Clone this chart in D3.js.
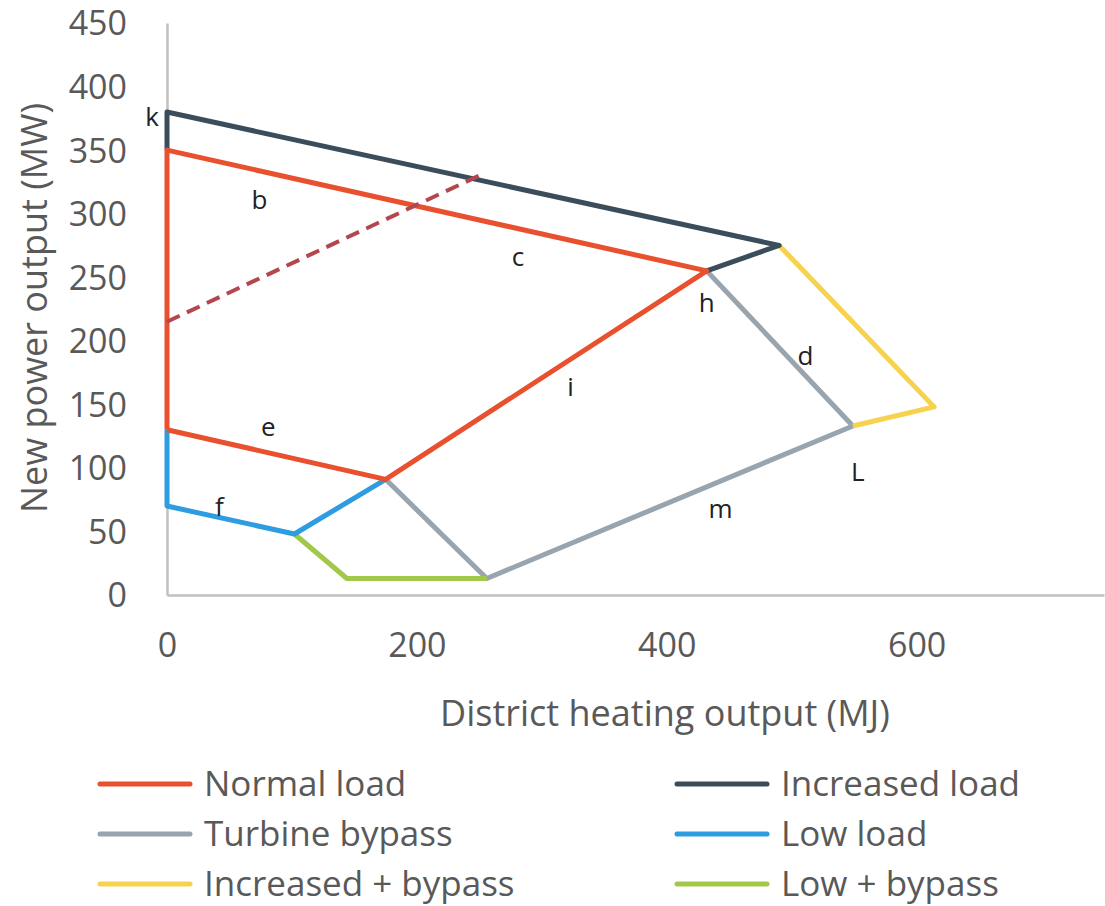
<!DOCTYPE html>
<html>
<head>
<meta charset="utf-8">
<script src="https://cdn.jsdelivr.net/npm/d3@7"></script>
<style>
  body { margin: 0; background: #fff; }
  svg { font-family: "Open Sans", sans-serif; }
  .pt-label { fill: #222; font-size: 26px; text-anchor: middle; }
  .legend text { fill: #595959; font-size: 35px; }
</style>
</head>
<body>
<div id="chart"></div>
<script>
// operating region boundaries, [heat MJ, power MW]
const normalLoad = [[0, 130], [0, 350], [432, 255], [175, 91], [0, 130]];
const increasedLoad = [[0, 350], [0, 380], [490, 275], [432, 255]];
const turbineBypass = [[175, 91], [256, 13], [549, 133], [432, 255]];
const lowLoad = [[0, 130], [0, 70], [102, 48], [175, 91]];
const increasedBypass = [[490, 275], [614, 148], [549, 133]];
const lowBypass = [[102, 48], [144, 13], [256, 13]];
const dashedLine = [[0, 215], [250, 330]];

const seriesNames = ["Normal load", "Increased load", "Turbine bypass", "Low load", "Increased + bypass", "Low + bypass"];
const seriesColors = ["#e9502e", "#3b4d5b", "#98a4ae", "#2e9ce0", "#f6d24e", "#a2c84a"];

const pointLabels = [
  {t: "k", x: -12, y: 376},
  {t: "b", x: 74, y: 311},
  {t: "c", x: 281, y: 266},
  {t: "h", x: 432, y: 230},
  {t: "d", x: 511, y: 188},
  {t: "i", x: 323, y: 164},
  {t: "e", x: 81, y: 132},
  {t: "L", x: 553, y: 97},
  {t: "f", x: 42, y: 69},
  {t: "m", x: 443, y: 68}
];

const xTicks = [0, 200, 400, 600];
const yTicks = [0, 50, 100, 150, 200, 250, 300, 350, 400, 450];

const w = 1105, h = 906;
const svg = d3.select("#chart").append("svg").attr("width", w).attr("height", h);

const x = d3.scaleLinear().domain([0, 750]).range([167, 1104]);
const y = d3.scaleLinear().domain([0, 450]).range([595, 23]);

//axes
const xAxis = svg.append("g").attr("transform", "translate(0," + y(0) + ")")
  .call(d3.axisBottom(x).tickValues(xTicks).tickSize(0).tickPadding(38));
const yAxis = svg.append("g").attr("transform", "translate(" + x(0) + ",0)")
  .call(d3.axisLeft(y).tickValues(yTicks).tickSize(0).tickPadding(40));
[xAxis, yAxis].forEach(a => {
  a.attr("font-family", "Open Sans, sans-serif").attr("font-size", 34);
  a.selectAll(".tick text").attr("fill", "#595959");
  a.select(".domain").attr("stroke", "#c0c0c0").attr("stroke-width", 2.5);
});
yAxis.selectAll(".tick text").attr("dy", "0.35em");

svg.append("text").attr("x", 665).attr("y", 726).attr("text-anchor", "middle")
  .attr("fill", "#595959").style("font-size", "36px").text("District heating output (MJ)");
svg.append("text").attr("transform", "translate(47,308) rotate(-90)").attr("text-anchor", "middle")
  .attr("fill", "#595959").style("font-size", "36px").text("New power output (MW)");

//region lines
const line = d3.line().x(d => x(d[0])).y(d => y(d[1]));
const drawOrder = [
  [turbineBypass, 2], [lowBypass, 5], [lowLoad, 3], [increasedBypass, 4],
  [increasedLoad, 1], [normalLoad, 0]
];
drawOrder.forEach(([pts, i]) => {
  svg.append("path").attr("d", line(pts)).attr("fill", "none")
    .attr("stroke", seriesColors[i]).attr("stroke-width", 5)
    .attr("stroke-linejoin", "round");
});
svg.append("path").attr("d", line(dashedLine)).attr("fill", "none")
  .attr("stroke", "#b4474d").attr("stroke-width", 4).attr("stroke-dasharray", "14,8");

svg.selectAll(".pt-label").data(pointLabels).enter().append("text")
  .attr("class", "pt-label").attr("x", d => x(d.x)).attr("y", d => y(d.y))
  .attr("dy", "0.35em").text(d => d.t);

//legend
const legend = svg.append("g").attr("class", "legend");
const item = legend.selectAll("g").data(seriesNames).enter().append("g")
  .attr("transform", (d, i) => "translate(" + (i % 2 === 0 ? 100 : 677) + "," + (784 + Math.floor(i / 2) * 50) + ")");
item.append("line").attr("x1", 0).attr("x2", 90).attr("y1", 0).attr("y2", 0)
  .attr("stroke", (d, i) => seriesColors[i]).attr("stroke-width", 5).attr("stroke-linecap", "round");
item.append("text").attr("x", 104).attr("dy", "0.35em").text(d => d);
</script>
</body>
</html>
